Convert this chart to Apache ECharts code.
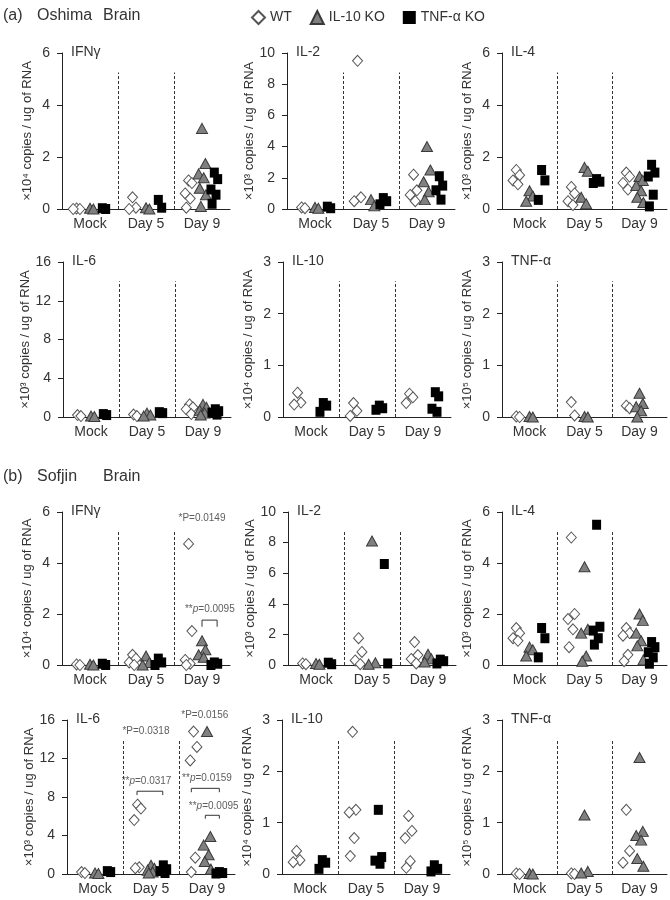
<!DOCTYPE html>
<html><head><meta charset="utf-8">
<script src="https://cdn.jsdelivr.net/npm/echarts@6/dist/echarts.min.js"></script>
<style>html,body{margin:0;padding:0;background:#fff}#c{width:670px;height:900px}</style>
</head><body><div id="c"></div>
<script>
const days = ['Mock', 'Day 5', 'Day 9'];
const groups = ['WT', 'IL-10 KO', 'TNF-α KO'];

// ---- (a) Oshima, brain ----  each array: [Mock values, Day 5 values, Day 9 values]
const oshIFNg_WT   = [[0.02, 0, 0], [0.45, 0.05, 0], [1.1, 1.0, 0.6, 0.4, 0.05]];
const oshIFNg_IL10 = [[0.03, 0], [0.05, 0], [3.1, 1.75, 1.35, 1.2, 0.8, 0.55, 0.1]];
const oshIFNg_TNF  = [[0.03, 0], [0.35, 0.05], [1.4, 1.15, 0.75, 0.55, 0.2]];

const oshIL2_WT   = [[0.1, 0.05], [9.5, 0.75, 0.5], [2.2, 1.2, 0.9, 0.5]];
const oshIL2_IL10 = [[0.1, 0.05], [0.6, 0.2], [4.0, 2.5, 1.75, 1.1, 0.6]];
const oshIL2_TNF  = [[0.15, 0.05], [0.7, 0.5, 0.3], [2.1, 1.5, 1.2, 0.6]];

const oshIL4_WT   = [[1.5, 1.3, 1.1, 0.95], [0.85, 0.6, 0.3, 0.15], [1.4, 1.25, 1.0, 0.75]];
const oshIL4_IL10 = [[0.7, 0.5, 0.3], [1.6, 1.45, 0.45, 0.2], [1.25, 1.1, 0.9, 0.7, 0.45, 0.25]];
const oshIL4_TNF  = [[1.5, 1.1, 0.35], [1.15, 1.05, 1.0], [1.7, 1.4, 1.25, 0.55, 0.1]];

const oshIL6_WT   = [[0.2, 0.1], [0.25, 0.1], [1.3, 1.0, 0.8, 0.3]];
const oshIL6_IL10 = [[0.1, 0.05], [0.4, 0.2, 0.1], [1.3, 1.0, 0.7, 0.4, 0.2]];
const oshIL6_TNF  = [[0.3, 0.2], [0.5, 0.4], [0.8, 0.6, 0.45, 0.25]];

const oshIL10_WT   = [[0.47, 0.28, 0.24], [0.27, 0.12, 0.02], [0.45, 0.38, 0.27]];
const oshIL10_IL10 = [[], [], []];
const oshIL10_TNF  = [[0.27, 0.22, 0.1], [0.22, 0.17, 0.14], [0.48, 0.4, 0.16, 0.1]];

const oshTNF_WT   = [[0.01, 0], [0.29, 0.03], [0.22, 0.17]];
const oshTNF_IL10 = [[0.01, 0], [0.01, 0], [0.46, 0.26, 0.2, 0.12, 0]];
const oshTNF_TNF  = [[], [], []];

// ---- (b) Sofjin, brain ----
const sofIFNg_WT   = [[0.02, 0], [0.4, 0.25, 0.1, 0], [4.75, 1.33, 0.2, 0.05, 0]];
const sofIFNg_IL10 = [[0.03, 0], [0.35, 0.1, 0], [0.95, 0.6, 0.4, 0.3]];
const sofIFNg_TNF  = [[0.05, 0], [0.25, 0.1, 0], [0.1, 0.05, 0]];

const sofIL2_WT   = [[0.1, 0.05], [1.75, 0.85, 0.3, 0.05], [1.5, 0.65, 0.4, 0.1]];
const sofIL2_IL10 = [[0.1, 0.05], [8.1, 0.15, 0.05], [0.7, 0.4, 0.2]];
const sofIL2_TNF  = [[0.15, 0.05], [6.6, 0.1], [0.35, 0.25, 0.1]];

const sofIL4_WT   = [[1.45, 1.25, 1.05, 0.95], [5.0, 2.0, 1.8, 1.4, 0.7], [1.45, 1.25, 1.15, 0.4, 0.15]];
const sofIL4_IL10 = [[0.7, 0.6, 0.35], [3.85, 1.4, 1.25, 0.35, 0.15], [2.0, 1.75, 1.25, 0.95, 0.75, 0.2]];
const sofIL4_TNF  = [[1.45, 1.05, 0.3], [5.5, 1.5, 1.35, 1.05, 0.8], [0.9, 0.7, 0.5, 0.3, 0.05]];

const sofIL6_WT   = [[0.2, 0.1], [7.2, 6.8, 5.6, 0.7, 0.6], [14.8, 13.2, 11.8, 1.7, 0.2]];
const sofIL6_IL10 = [[0.1, 0.05], [0.9, 0.6, 0.4, 0.2, 0.1], [14.8, 3.9, 3.0, 2.0, 1.3, 0.5]];
const sofIL6_TNF  = [[0.3, 0.2], [0.9, 0.5, 0.3, 0.1], [0.2, 0.1, 0.05]];

const sofIL10_WT   = [[0.45, 0.27, 0.23], [2.77, 1.25, 1.2, 0.7, 0.35], [1.13, 0.84, 0.7, 0.25, 0.12]];
const sofIL10_IL10 = [[], [], []];
const sofIL10_TNF  = [[0.27, 0.22, 0.1], [1.25, 0.33, 0.26, 0.2], [0.17, 0.1, 0.05]];

const sofTNF_WT   = [[0.01, 0], [0.01, 0], [1.25, 0.45, 0.22]];
const sofTNF_IL10 = [[0.01, 0], [1.15, 0.05, 0.02], [2.27, 0.83, 0.75, 0.66, 0.3, 0.15]];
const sofTNF_TNF  = [[], [], []];

// statistics text
const sofIFNg_stats = ['*P=0.0149', '**p=0.0095'];
const sofIL6_stats  = ['*P=0.0318', '*P=0.0156', '**p=0.0317', '**p=0.0159', '**p=0.0095'];

// ---------------- layout ----------------
const FONT = 'Arial, "Liberation Sans", sans-serif';
const TXT = '#333';
const W = 168;
const rows = [
  {top: 53, h: 156, lefts: [62, 287, 502]},
  {top: 262, h: 155, lefts: [63, 283, 502]},
  {top: 512, h: 153, lefts: [62, 288, 502]},
  {top: 720, h: 154, lefts: [67, 282, 502]}
];
const panels = [
  {r:0,c:0,title:'IFNγ', unit:'×10⁴', max:6, step:2, d:[oshIFNg_WT, oshIFNg_IL10, oshIFNg_TNF]},
  {r:0,c:1,title:'IL-2', unit:'×10³', max:10, step:2, d:[oshIL2_WT, oshIL2_IL10, oshIL2_TNF]},
  {r:0,c:2,title:'IL-4', unit:'×10³', max:6, step:2, d:[oshIL4_WT, oshIL4_IL10, oshIL4_TNF]},
  {r:1,c:0,title:'IL-6', unit:'×10³', max:16, step:4, d:[oshIL6_WT, oshIL6_IL10, oshIL6_TNF]},
  {r:1,c:1,title:'IL-10', unit:'×10⁴', max:3, step:1, d:[oshIL10_WT, oshIL10_IL10, oshIL10_TNF]},
  {r:1,c:2,title:'TNF-α', unit:'×10⁵', max:3, step:1, d:[oshTNF_WT, oshTNF_IL10, oshTNF_TNF]},
  {r:2,c:0,title:'IFNγ', unit:'×10⁴', max:6, step:2, d:[sofIFNg_WT, sofIFNg_IL10, sofIFNg_TNF]},
  {r:2,c:1,title:'IL-2', unit:'×10³', max:10, step:2, d:[sofIL2_WT, sofIL2_IL10, sofIL2_TNF]},
  {r:2,c:2,title:'IL-4', unit:'×10³', max:6, step:2, d:[sofIL4_WT, sofIL4_IL10, sofIL4_TNF]},
  {r:3,c:0,title:'IL-6', unit:'×10³', max:16, step:4, d:[sofIL6_WT, sofIL6_IL10, sofIL6_TNF]},
  {r:3,c:1,title:'IL-10', unit:'×10⁴', max:3, step:1, d:[sofIL10_WT, sofIL10_IL10, sofIL10_TNF]},
  {r:3,c:2,title:'TNF-α', unit:'×10⁵', max:3, step:1, d:[sofTNF_WT, sofTNF_IL10, sofTNF_TNF]}
];
// annotation anchors (data coords)
const noteLayout = [
  [6, sofIFNg_stats, 0, 2.5, 5.75], [6, sofIFNg_stats, 1, 2.64, 2.2],
  [9, sofIL6_stats, 0, 1.41, 14.85], [9, sofIL6_stats, 1, 2.46, 16.5],
  [9, sofIL6_stats, 2, 1.42, 9.6], [9, sofIL6_stats, 3, 2.5, 10.0], [9, sofIL6_stats, 4, 2.62, 7.0]
];
// brackets: [panelIndex, x1, x2, yTop, yLeg]
const bracketLayout = [
  [6, 2.5, 2.77, 1.76, 1.5],
  [9, 1.25, 1.71, 8.6, 8.2],
  [9, 2.22, 2.72, 8.9, 8.5],
  [9, 2.47, 2.72, 6.1, 5.75]
];

const GROUP_OFF = [-0.24, 0, 0.22];
const JIT = [0, 0.06, -0.06, 0.03, -0.04, 0.07, -0.02];
const markerStyle = [
  {symbol:'diamond', symbolSize:[10, 11], itemStyle:{color:'#fff', borderColor:'#555', borderWidth:1, opacity:1}},
  {symbol:'triangle', symbolSize:[11, 10], itemStyle:{color:'#808080', borderColor:'#3a3a3a', borderWidth:1, opacity:1}},
  {symbol:'rect', symbolSize:[9, 10], itemStyle:{color:'#000', borderColor:'#000', borderWidth:0, opacity:1}}
];

function pts(arr, g) {
  const out = [];
  arr.forEach((vals, d) => vals.forEach((v, i) => out.push([d + 0.5 + GROUP_OFF[g] + JIT[i % JIT.length], v])));
  return out;
}

const grid = [], xAxis = [], yAxis = [], series = [], graphic = [];
panels.forEach((p, k) => {
  const row = rows[p.r];
  const left = row.lefts[p.c];
  grid.push({left: left, top: row.top, width: W, height: row.h, containLabel: false});
  xAxis.push({
    type: 'value', gridIndex: k, min: 0, max: 3, interval: 0.5,
    axisLine: {show: true, lineStyle: {color: '#222', width: 1}},
    axisTick: {show: false}, splitLine: {show: false},
    axisLabel: {margin: 8, fontSize: 14, color: TXT, fontFamily: FONT,
      formatter: v => (Math.abs(v - 0.5) < 1e-6 ? days[0] : Math.abs(v - 1.5) < 1e-6 ? days[1] : Math.abs(v - 2.5) < 1e-6 ? days[2] : '')}
  });
  yAxis.push({
    type: 'value', gridIndex: k, min: 0, max: p.max, interval: p.step,
    name: p.unit + ' copies / ug of RNA', nameLocation: 'middle', nameGap: 28, nameRotate: 90,
    nameTextStyle: {fontSize: 13, color: TXT, fontFamily: FONT},
    axisLine: {show: true, lineStyle: {color: '#222', width: 1}},
    axisTick: {show: true, inside: false, length: 5, lineStyle: {color: '#222'}},
    splitLine: {show: false},
    axisLabel: {margin: 12, fontSize: 14, color: TXT, fontFamily: FONT}
  });
  p.d.forEach((arr, g) => {
    const s = Object.assign({
      type: 'scatter', name: groups[g], xAxisIndex: k, yAxisIndex: k,
      data: pts(arr, g), z: 3 + g, silent: true
    }, markerStyle[g]);
    if (g === 0) {
      const top = p.max * 0.875;
      s.markLine = {
        silent: true, symbol: 'none', label: {show: false}, animation: false,
        lineStyle: {color: '#333', type: [3, 2], width: 1},
        data: [[{coord: [1, 0]}, {coord: [1, top]}], [{coord: [2, 0]}, {coord: [2, top]}]]
      };
    }
    series.push(s);
  });
  graphic.push({type: 'text', left: left + 9, top: row.top - 8,
    style: {text: p.title, fontSize: 14, fill: TXT, font: '14px ' + FONT}});
});

// statistics text
const noteSeries = {};
noteLayout.forEach(([pi, arr, ti, x, y]) => {
  (noteSeries[pi] = noteSeries[pi] || []).push({value: [x, y], name: arr[ti]});
});
Object.keys(noteSeries).forEach(pi => {
  series.push({
    type: 'scatter', name: 'note' + pi, xAxisIndex: +pi, yAxisIndex: +pi, clip: false,
    symbolSize: 1, itemStyle: {color: 'rgba(0,0,0,0)'}, silent: true, z: 10,
    label: {show: true, position: 'inside', fontSize: 10, color: TXT, fontFamily: FONT,
      formatter: prm => {
        const t = prm.name;
        if (t.indexOf('p=') >= 0) { const i = t.indexOf('p='); return t.slice(0, i) + '{i|p}' + t.slice(i + 1); }
        return t;
      },
      rich: {i: {fontStyle: 'italic', fontSize: 10, color: TXT, fontFamily: FONT}}},
    data: noteSeries[pi]
  });
});
bracketLayout.forEach(([pi, x1, x2, yt, yl], j) => {
  series.push({
    type: 'line', name: 'br' + j, xAxisIndex: pi, yAxisIndex: pi, symbol: 'none', silent: true,
    lineStyle: {color: '#333', width: 1}, clip: false,
    data: [[x1, yl], [x1, yt], [x2, yt], [x2, yl]]
  });
});

// headers
const hdr = (txt, x, y) => ({type: 'text', left: x, top: y, style: {text: txt, font: '16px ' + FONT, fill: TXT}});
graphic.push(hdr('(a)', 3, 8), hdr('Oshima', 37, 8), hdr('Brain', 103, 8));
graphic.push(hdr('(b)', 3, 469), hdr('Sofjin', 37, 469), hdr('Brain', 103, 469));

const chart = echarts.init(document.getElementById('c'), null, {renderer: 'canvas'});
chart.setOption({
  animation: false,
  backgroundColor: '#fff',
  textStyle: {fontFamily: FONT},
  legend: {
    left: 246, top: 5, itemWidth: 13, itemHeight: 13, itemGap: 18,
    selectedMode: false,
    textStyle: {fontSize: 14, color: TXT, fontFamily: FONT},
    data: [{name: 'WT', icon: 'diamond'}, {name: 'IL-10 KO', icon: 'triangle'}, {name: 'TNF-α KO', icon: 'rect'}]
  },
  grid, xAxis, yAxis, series, graphic
});
</script></body></html>
